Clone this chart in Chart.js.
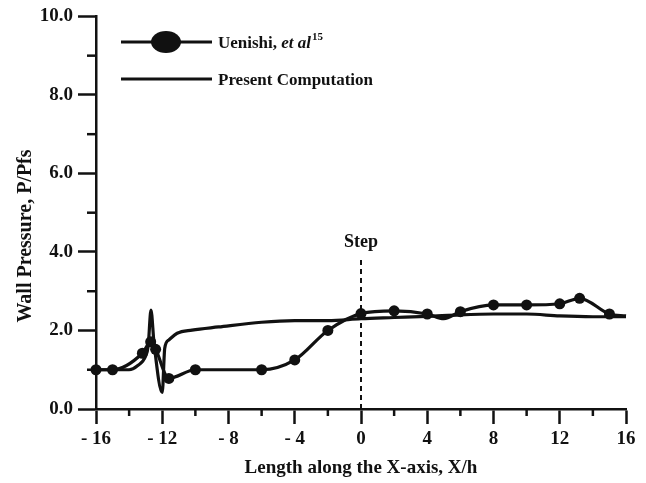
<!DOCTYPE html>
<html>
<head>
<meta charset="utf-8">
<script src="https://cdn.jsdelivr.net/npm/chart.js@4.4.0/dist/chart.umd.min.js"></script>
<style>
  html, body { margin: 0; padding: 0; background: #fff; }
  #wrap { width: 646px; height: 483px; }
</style>
</head>
<body>
<div id="wrap"><canvas id="cvs_pressao"></canvas></div>
<script>
// dados (X/h, P/Pfs)
const uenishiX = [-16, -15, -13.2, -12.7, -12.4, -11.6, -10, -6, -4, -2, 0, 2, 4, 5, 6, 8, 10, 12, 13.2, 15, 16];
const uenishiY = [1.0, 1.0, 1.42, 1.71, 1.52, 0.78, 1.0, 1.0, 1.25, 2.0, 2.43, 2.5, 2.42, 2.3, 2.48, 2.65, 2.65, 2.68, 2.82, 2.42, 2.37];
// 1 = ponto medido (com marcador), 0 = só a linha
const uenishiMarca = [1, 1, 1, 1, 1, 1, 1, 1, 1, 1, 1, 1, 1, 0, 1, 1, 1, 1, 1, 1, 0];

const computX = [-16, -14, -13.5, -13, -12.85, -12.68, -12.5, -12.0, -11.85, -11.6, -11.1, -10.2, -8.6, -6, -4, -2, 0, 2, 4, 6, 8, 10, 12, 14, 16];
const computY = [1.0, 1.0, 1.1, 1.35, 1.6, 2.52, 1.7, 0.42, 1.55, 1.76, 1.93, 2.01, 2.09, 2.21, 2.25, 2.25, 2.3, 2.33, 2.36, 2.4, 2.42, 2.42, 2.37, 2.35, 2.35];

const degrauX = [0, 0];
const degrauY = [0, 3.8];

const ticksX = [-16, -12, -8, -4, 0, 4, 8, 12, 16];
const ticksY = [0, 2, 4, 6, 8, 10];

const serif = '"Liberation Serif", "DejaVu Serif", serif';
const preto = '#111';

function pares(xs, ys) {
    return xs.map((x, i) => ({ x: x, y: ys[i] }));
}

// ticks menores, legenda, texto "Step" e título do eixo Y
const extrasPlugin = {
    id: 'extras',
    afterDraw(chart) {
        const ctx = chart.ctx;
        const sx = chart.scales.x;
        const sy = chart.scales.y;
        const area = chart.chartArea;
        ctx.save();
        ctx.strokeStyle = preto;
        ctx.lineWidth = 2.5;

        // ticks menores
        for (let i = 0; i < ticksX.length - 1; i++) {
            const px = sx.getPixelForValue((ticksX[i] + ticksX[i + 1]) / 2);
            ctx.beginPath();
            ctx.moveTo(px, area.bottom);
            ctx.lineTo(px, area.bottom + 7);
            ctx.stroke();
        }
        for (let i = 0; i < ticksY.length - 1; i++) {
            const py = sy.getPixelForValue((ticksY[i] + ticksY[i + 1]) / 2);
            ctx.beginPath();
            ctx.moveTo(area.left - 9, py);
            ctx.lineTo(area.left, py);
            ctx.stroke();
        }

        // texto do degrau
        ctx.fillStyle = preto;
        ctx.font = `bold 18px ${serif}`;
        ctx.textAlign = 'center';
        ctx.textBaseline = 'middle';
        ctx.fillText('Step', sx.getPixelForValue(0), 242);

        // legenda
        ctx.lineWidth = 3.2;
        ctx.beginPath();
        ctx.moveTo(121, 42);
        ctx.lineTo(212, 42);
        ctx.moveTo(121, 79);
        ctx.lineTo(212, 79);
        ctx.stroke();
        ctx.beginPath();
        ctx.ellipse(166, 42, 15, 11, 0, 0, Math.PI * 2);
        ctx.fill();

        ctx.textAlign = 'left';
        ctx.textBaseline = 'alphabetic';
        let tx = 218;
        ctx.font = `bold 17px ${serif}`;
        ctx.fillText('Uenishi, ', tx, 48);
        tx += ctx.measureText('Uenishi, ').width;
        ctx.font = `italic bold 17px ${serif}`;
        ctx.fillText('et al', tx, 48);
        tx += ctx.measureText('et al').width;
        ctx.font = `bold 11px ${serif}`;
        ctx.fillText('15', tx + 1, 40);
        ctx.font = `bold 17px ${serif}`;
        ctx.fillText('Present Computation', 218, 85);

        // título do eixo Y
        ctx.translate(26, 236);
        ctx.rotate(-Math.PI / 2);
        ctx.textAlign = 'center';
        ctx.textBaseline = 'middle';
        ctx.font = `bold 20px ${serif}`;
        ctx.fillText('Wall Pressure, P/Pfs', 0, 0);
        ctx.restore();
    }
};

new Chart(document.getElementById('cvs_pressao'), {
    type: 'scatter',
    data: {
        datasets: [
            {
                label: 'Uenishi, et al',
                data: pares(uenishiX, uenishiY),
                showLine: true,
                borderColor: preto,
                backgroundColor: preto,
                borderWidth: 3.2,
                pointRadius: uenishiMarca.map(m => m ? 5.5 : 0),
                pointBorderWidth: 0,
                cubicInterpolationMode: 'monotone',
                clip: false
            },
            {
                label: 'Present Computation',
                data: pares(computX, computY),
                showLine: true,
                borderColor: preto,
                borderWidth: 3.2,
                pointRadius: 0,
                cubicInterpolationMode: 'monotone',
                clip: false
            },
            {
                label: 'Step',
                data: pares(degrauX, degrauY),
                showLine: true,
                borderColor: preto,
                borderWidth: 2,
                borderDash: [5, 4],
                pointRadius: 0
            }
        ]
    },
    options: {
        responsive: true,
        maintainAspectRatio: false,
        animation: false,
        layout: { padding: { left: 0, right: 20, top: 16, bottom: 0 } },
        plugins: {
            legend: { display: false },
            tooltip: { enabled: false }
        },
        scales: {
            x: {
                type: 'linear',
                min: -16,
                max: 16,
                afterBuildTicks: s => { s.ticks = ticksX.map(v => ({ value: v })); },
                afterFit: s => { s.height = 74; },
                border: { color: preto, width: 2.5 },
                grid: { drawOnChartArea: false, drawTicks: true, tickLength: 15, tickColor: preto, tickWidth: 2.5 },
                ticks: {
                    color: preto,
                    padding: 4,
                    font: { family: serif, size: 19, weight: 'bold' },
                    callback: v => v < 0 ? '- ' + Math.abs(v) : String(v)
                },
                title: {
                    display: true,
                    text: 'Length along the X-axis, X/h',
                    color: preto,
                    font: { family: serif, size: 19, weight: 'bold' },
                    padding: { top: 0, bottom: 4 }
                }
            },
            y: {
                min: 0,
                max: 10,
                afterBuildTicks: s => { s.ticks = ticksY.map(v => ({ value: v })); },
                afterFit: s => { s.width = 96; },
                border: { color: preto, width: 2.5 },
                grid: { drawOnChartArea: false, drawTicks: true, tickLength: 18, tickColor: preto, tickWidth: 2.5 },
                ticks: {
                    color: preto,
                    padding: 5,
                    font: { family: serif, size: 19, weight: 'bold' },
                    callback: v => v.toFixed(1)
                }
            }
        }
    },
    plugins: [extrasPlugin]
});
</script>
</body>
</html>
